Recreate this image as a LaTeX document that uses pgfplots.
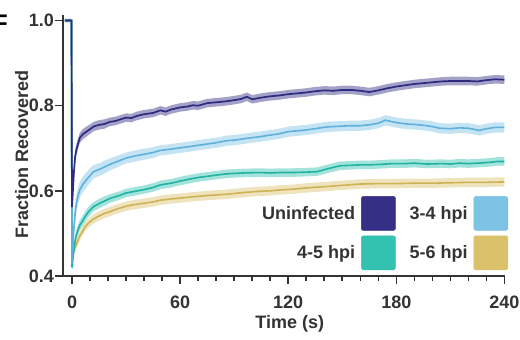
\documentclass[border=0pt]{standalone}
\usepackage{fontspec}
\setmainfont{Liberation Sans}
\usepackage{pgfplots}
\usepackage{pgfplotstable}
\pgfplotsset{compat=1.18}
\usepgfplotslibrary{fillbetween}

\definecolor{cU}{HTML}{352F85}
\definecolor{cL}{HTML}{7DC3E6}
\definecolor{cT}{HTML}{33C2B0}
\definecolor{cY}{HTML}{D9C26A}
\definecolor{lU}{HTML}{2E2A80}
\definecolor{lL}{HTML}{5FB0DC}
\definecolor{lT}{HTML}{1FB3A2}
\definecolor{lY}{HTML}{CFB255}
\definecolor{axgray}{HTML}{333333}

\pgfplotstableread{
t m e
-4 1.000 0.004
-0.3 1.000 0.004
0 0.562 0.010
0.5 0.600 0.014
1 0.640 0.014
1.7 0.679 0.014
2.5 0.698 0.013
3.3 0.710 0.013
4.4 0.725 0.012
6 0.733 0.012
8 0.739 0.012
10 0.745 0.011
12 0.751 0.011
15 0.755 0.011
18 0.757 0.011
21 0.762 0.010
24 0.764 0.010
27 0.768 0.010
30 0.772 0.010
33 0.771 0.010
36 0.776 0.010
40 0.780 0.010
45 0.783 0.010
49 0.789 0.010
52 0.786 0.010
55 0.791 0.010
60 0.796 0.010
64 0.798 0.010
67 0.801 0.010
70 0.800 0.010
75 0.806 0.010
80 0.808 0.010
85 0.810 0.010
90 0.813 0.010
94 0.816 0.010
97 0.821 0.010
100 0.815 0.010
105 0.819 0.010
110 0.822 0.010
115 0.824 0.010
120 0.827 0.010
125 0.829 0.010
130 0.831 0.010
135 0.834 0.010
140 0.836 0.010
145 0.835 0.010
150 0.837 0.010
155 0.837 0.010
160 0.835 0.010
165 0.832 0.010
170 0.836 0.010
175 0.841 0.010
180 0.845 0.010
185 0.848 0.010
190 0.851 0.010
195 0.853 0.010
200 0.855 0.010
205 0.857 0.010
210 0.858 0.010
215 0.858 0.010
220 0.858 0.010
225 0.857 0.010
230 0.860 0.010
235 0.862 0.010
240 0.861 0.010
}\dataU

\pgfplotstableread{
t m e
-4 1.000 0.004
-0.3 1.000 0.004
0 0.430 0.010
0.5 0.470 0.018
1 0.510 0.020
2 0.560 0.020
3.3 0.588 0.020
4.4 0.603 0.019
6 0.615 0.018
8 0.626 0.018
10 0.636 0.017
12 0.645 0.016
15 0.650 0.015
18 0.656 0.015
21 0.662 0.014
24 0.667 0.014
27 0.672 0.013
30 0.677 0.013
35 0.682 0.013
40 0.686 0.013
45 0.690 0.013
49 0.695 0.012
55 0.698 0.012
60 0.701 0.012
67 0.705 0.012
70 0.707 0.012
75 0.710 0.012
80 0.713 0.012
86 0.718 0.012
90 0.719 0.012
95 0.722 0.012
100 0.725 0.012
104 0.727 0.012
110 0.731 0.012
115 0.734 0.012
120 0.739 0.012
125 0.741 0.012
130 0.743 0.012
135 0.746 0.012
141 0.750 0.012
145 0.751 0.012
150 0.752 0.012
155 0.753 0.012
160 0.753 0.012
165 0.755 0.012
170 0.759 0.012
174 0.766 0.012
178 0.762 0.012
182 0.759 0.012
186 0.757 0.012
190 0.756 0.012
195 0.754 0.012
200 0.751 0.012
204 0.747 0.012
210 0.746 0.012
215 0.748 0.012
220 0.747 0.012
226 0.742 0.012
230 0.746 0.012
235 0.749 0.012
240 0.749 0.012
}\dataL

\pgfplotstableread{
t m e
-4 1.000 0.004
-0.3 1.000 0.004
0 0.420 0.008
0.5 0.440 0.010
1 0.460 0.012
2 0.490 0.012
3.3 0.508 0.012
4.4 0.520 0.012
6 0.530 0.012
7.2 0.539 0.012
9 0.550 0.012
12 0.563 0.011
15 0.570 0.011
18 0.576 0.011
21 0.582 0.010
24 0.586 0.010
27 0.590 0.010
30 0.595 0.010
35 0.599 0.010
40 0.603 0.010
45 0.608 0.010
49 0.614 0.010
55 0.618 0.010
60 0.623 0.010
67 0.629 0.010
71 0.632 0.010
75 0.634 0.010
80 0.637 0.010
86 0.640 0.010
95 0.642 0.010
104 0.643 0.010
110 0.642 0.010
115 0.643 0.010
123 0.643 0.010
130 0.644 0.010
136 0.645 0.010
142 0.652 0.010
149 0.659 0.010
155 0.660 0.010
160 0.661 0.010
165 0.661 0.010
170 0.662 0.010
178 0.664 0.010
185 0.664 0.010
190 0.665 0.010
197 0.663 0.010
205 0.664 0.010
210 0.663 0.010
215 0.665 0.010
220 0.664 0.010
225 0.665 0.010
232 0.667 0.010
236 0.669 0.010
240 0.669 0.010
}\dataT

\pgfplotstableread{
t m e
-4 1.000 0.004
-0.3 1.000 0.004
0 0.440 0.008
0.5 0.452 0.010
1 0.460 0.011
2 0.470 0.011
3.3 0.484 0.011
4.4 0.495 0.011
6 0.506 0.011
7.2 0.515 0.011
9 0.524 0.011
12 0.534 0.011
15 0.541 0.011
18 0.547 0.011
21 0.551 0.011
24 0.556 0.011
27 0.560 0.011
30 0.564 0.011
35 0.568 0.011
40 0.571 0.011
45 0.574 0.011
49 0.578 0.011
55 0.581 0.011
60 0.583 0.011
67 0.586 0.011
75 0.589 0.011
86 0.592 0.011
95 0.596 0.011
104 0.599 0.011
110 0.600 0.011
115 0.602 0.011
123 0.604 0.011
130 0.607 0.011
141 0.610 0.011
150 0.613 0.011
160 0.616 0.011
170 0.617 0.011
180 0.617 0.011
190 0.618 0.011
200 0.618 0.011
210 0.619 0.011
220 0.620 0.011
230 0.620 0.011
240 0.621 0.011
}\dataY

\newcommand{\band}[3]{%
  \addplot[name path=#2up, draw=none, forget plot] table[x=t, y expr=\thisrow{m}+\thisrow{e}] {#1};
  \addplot[name path=#2lo, draw=none, forget plot] table[x=t, y expr=\thisrow{m}-\thisrow{e}] {#1};
  \addplot[#3, fill opacity=0.45, draw=none, forget plot] fill between[of=#2up and #2lo];
}

\begin{document}
\begin{tikzpicture}
\begin{axis}[
  scale only axis,
  width=442pt, height=261pt,
  xmin=-5, xmax=240.3,
  ymin=0.4, ymax=1.013,
  axis lines=left,
  axis line style={-, axgray, line width=2pt},
  tick align=outside,
  major tick length=8pt,
  minor tick length=5pt,
  tick style={axgray, line width=1.6pt},
  xtick={0,60,120,180,240},
  xticklabels={0,60,120,180,240},
  minor xtick={10,20,30,40,50,70,80,90,100,110,130,140,150,160,170,190,200,210,220,230},
  ytick={0.4,0.6,0.8,1.0},
  yticklabels={0.4,0.6,0.8,1.0},
  ticklabel style={font=\fontsize{18}{21}\selectfont\bfseries, text=axgray},
  yticklabel style={inner sep=1pt},
  xticklabel style={inner sep=0pt, yshift=-12pt},
  xlabel={Time (s)},
  ylabel={Fraction Recovered},
  label style={font=\fontsize{18}{21}\selectfont\bfseries, text=axgray},
  xlabel style={at={(axis description cs:0.513,0)}, anchor=base, yshift=-52.5pt},
  ylabel style={at={(axis description cs:-0.0934,0.467)}, anchor=center},
  legend columns=2,
  legend cell align=right,
  legend plot pos=right,
  legend style={draw=none, fill=none, at={(rel axis cs:1,0)}, anchor=south east,
    xshift=3pt, yshift=6pt, inner sep=0pt, outer sep=0pt, row sep=5pt,
    font=\fontsize{18}{21}\selectfont\bfseries, text=axgray,
    nodes={inner sep=0pt},
    /tikz/every odd column/.append style={column sep=6pt},
    /tikz/every even column/.append style={column sep=14pt}},
  legsq/.style={legend image code/.code={\fill[#1, rounded corners=1.5pt] (0pt,-17pt) rectangle (34pt,17pt);}},
]
\band{\dataY}{Y}{cY}
\addplot[lY, line width=1.6pt, forget plot] table[x=t, y=m] {\dataY};
\band{\dataT}{T}{cT}
\addplot[lT, line width=1.6pt, forget plot] table[x=t, y=m] {\dataT};
\band{\dataL}{L}{cL}
\addplot[lL, line width=1.6pt, forget plot] table[x=t, y=m] {\dataL};
\band{\dataU}{U}{cU}
\addplot[lU, line width=1.7pt, forget plot] table[x=t, y=m] {\dataU};

\addlegendimage{legsq=cU}\addlegendentry{Uninfected}
\addlegendimage{legsq=cL}\addlegendentry{3-4 hpi}
\addlegendimage{legsq=cT}\addlegendentry{4-5 hpi}
\addlegendimage{legsq=cY}\addlegendentry{5-6 hpi}
\end{axis}
\node[anchor=north east, inner sep=0pt, font=\fontsize{24}{28}\selectfont\bfseries]
  at ([xshift=-55pt]current axis.north west) {F};
\pgfresetboundingbox
\path[use as bounding box] ([shift={(-63pt,-63pt)}]current axis.south west) rectangle ([shift={(15pt,15pt)}]current axis.north east);
\end{tikzpicture}
\end{document}
